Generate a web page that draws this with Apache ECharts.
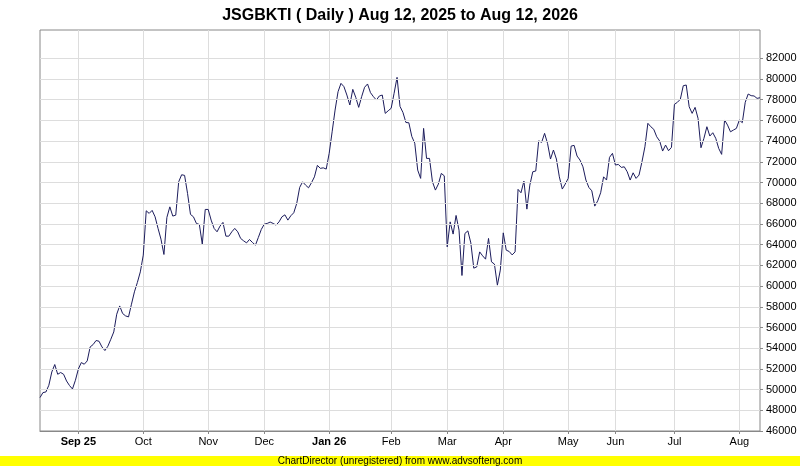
<!DOCTYPE html>
<html><head><meta charset="utf-8">
<script src="https://cdn.jsdelivr.net/npm/echarts@6/dist/echarts.min.js"></script>
<style>html,body{margin:0;padding:0;background:#fff}#c{width:800px;height:466px}</style>
</head><body><div id="c"></div>
<script>
const titleText = 'JSGBKTI ( Daily ) Aug 12, 2025 to Aug 12, 2026';
const footerText = 'ChartDirector (unregistered) from www.advsofteng.com';
const monthLabels = ['Sep 25','Oct','Nov','Dec','Jan 26','Feb','Mar','Apr','May','Jun','Jul','Aug'];
const monthStartIdx = [13,35,57,76,98,119,138,157,179,195,215,237];
const boldLabels = ['Sep 25','Jan 26'];
const yTicks = [46000,48000,50000,52000,54000,56000,58000,60000,62000,64000,66000,68000,70000,72000,74000,76000,78000,80000,82000];
const closeValues = [
49230,49710,49770,50420,51700,52420,51480,51650,51480,50830,50390,50060,50900,51990,52610,52450,52770,54120,54350,54740,
54670,54120,53770,54190,54860,55570,57280,58080,57350,57120,57020,58250,59440,60350,61370,62990,67270,67020,67310,66690,
65570,64530,63050,66630,67650,66760,66850,70070,70750,70690,68950,66920,66690,66050,65950,64050,67400,67400,66370,65570,
65240,65790,66150,64820,64820,65240,65570,65240,64600,64370,64170,64500,64210,63950,64700,65470,65980,66050,66180,66050,
65890,66200,66690,66880,66370,66790,67080,67980,69530,70070,69750,69490,69980,70550,71660,71370,71420,71300,72820,74900,
77000,78770,79580,79260,78450,77490,79000,78230,77260,78290,79200,79520,78680,78290,77970,78360,78450,76680,76930,77170,
78620,80160,77350,76770,75800,75770,74450,73800,71200,70400,75230,72330,72330,70070,69270,69850,70880,70650,63790,66200,
65020,66820,65400,61020,65080,65330,64170,61730,61850,63300,62920,62600,64600,62340,62120,60090,61540,65140,63470,63340,
63010,63300,69340,69010,70140,67430,69750,71040,71110,74030,73880,74750,73780,72270,73140,72270,70550,69370,69850,70400,
73520,73590,72560,72170,71520,70240,69530,69200,67720,68230,69010,70550,70240,72430,72820,71690,71750,71460,71520,71040,
70240,70940,70400,70720,72000,73450,75720,75390,75140,74420,74010,73040,73620,73070,73400,77550,77750,78040,79350,79420,
77320,76680,77260,76200,73360,74270,75390,74490,74810,74270,73300,72720,76040,75550,74900,75070,75230,76040,75780,77750,
78550,78390,78360,78130,78190
];

const categories = closeValues.map((_, i) => String(i));
const monthSet = new Set(monthStartIdx);
const isMonth = (idx) => monthSet.has(idx);

const chart = echarts.init(document.getElementById('c'), null, {renderer: 'canvas'});
const FONT = 'Liberation Sans, Arial, sans-serif';
chart.setOption({
  animation: false,
  backgroundColor: '#ffffff',
  title: {
    text: titleText, left: 'center', top: 3,
    textStyle: {fontFamily: FONT, fontWeight: 'bold', fontSize: 16, color: '#000'}
  },
  grid: {
    left: 40, right: 40, top: 30, bottom: 35,
    show: true, borderColor: '#888888', borderWidth: 1, backgroundColor: '#ffffff'
  },
  xAxis: {
    type: 'category', data: categories, boundaryGap: false,
    axisLine: {show: true, lineStyle: {color: '#888888'}},
    axisTick: {show: true, interval: isMonth, length: 3, lineStyle: {color: '#888888'}},
    splitLine: {show: true, interval: isMonth, lineStyle: {color: '#dddddd', width: 1}},
    axisLabel: {
      interval: isMonth, margin: 5, fontFamily: FONT, fontSize: 11, color: '#000',
      formatter: function (v, idx) {
        const k = monthStartIdx.indexOf(Number(v));
        if (k < 0) return '';
        const lab = monthLabels[k];
        return boldLabels.includes(lab) ? '{b|' + lab + '}' : lab;
      },
      rich: {b: {fontFamily: FONT, fontSize: 11, fontWeight: 'bold', color: '#000'}}
    }
  },
  yAxis: {
    type: 'value', position: 'right', min: 46000, max: 84733,
    axisLine: {show: false},
    axisTick: {show: true, customValues: yTicks, length: 3, lineStyle: {color: '#888888'}},
    axisLabel: {customValues: yTicks, margin: 6, fontFamily: FONT, fontSize: 11, color: '#000',
      formatter: function (v) { return String(Math.round(v)); }},
    splitLine: {show: false}
  },
  series: [
    {
      type: 'line', data: closeValues, z: 1, symbol: 'none', silent: true,
      lineStyle: {opacity: 0},
      markLine: {
        silent: true, symbol: ['none', 'none'], label: {show: false},
        lineStyle: {color: '#dddddd', type: 'solid', width: 1},
        emphasis: {disabled: true},
        data: yTicks.slice(1).map(v => ({yAxis: v}))
      }
    },
    {
      type: 'line', data: closeValues, z: 3, symbol: 'none', showSymbol: false,
      lineStyle: {color: '#1c1c5c', width: 1}
    }
  ],
  graphic: [
    {type: 'rect', left: 0, top: 456, shape: {width: 800, height: 10}, style: {fill: '#ffff00'}},
    {type: 'text', left: 'center', top: 456, style: {text: footerText, fontFamily: FONT, fontSize: 10, fill: '#000'}}
  ]
});
</script></body></html>
